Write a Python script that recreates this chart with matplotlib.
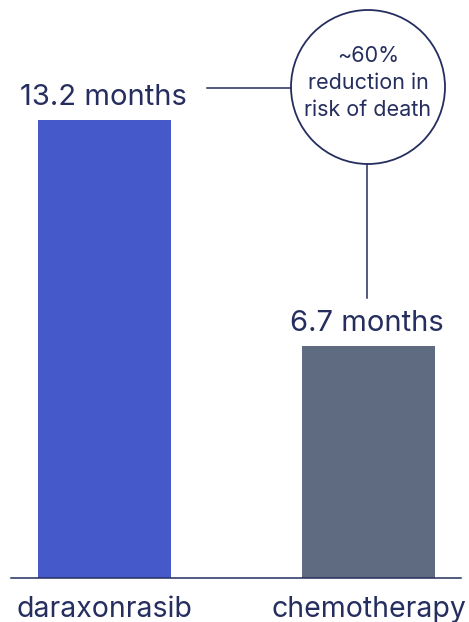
import matplotlib
matplotlib.use("Agg")
import matplotlib.pyplot as plt
from matplotlib.patches import Circle

plt.rcParams["font.family"] = ["Inter", "DejaVu Sans"]

treatments = ["daraxonrasib", "chemotherapy"]
median_os = [13.2, 6.7]
value_labels = ["13.2 months", "6.7 months"]
bar_colors = ["#4659cb", "#5f6b80"]
callout_text = "~60%\nreduction in\nrisk of death"

navy = "#252e5e"
W, H, DPI = 469, 622, 100
px_per_month = 34.7
px_per_cat = 264
x0_px = 104.5
base_px = 44

fig = plt.figure(figsize=(W / DPI, H / DPI), dpi=DPI)
ax = fig.add_axes([0, base_px / H, 1, 1 - base_px / H])
ax.set_xlim(-x0_px / px_per_cat, (W - x0_px) / px_per_cat)
ax.set_ylim(0, (H - base_px) / px_per_month)

x = list(range(len(treatments)))
ax.bar(x, median_os, width=133 / px_per_cat, color=bar_colors, zorder=2)

for xi, v, lab in zip(x, median_os, value_labels):
    ax.annotate(lab, (xi, v), xytext=(-1, 10.5), textcoords="offset points",
                ha="center", va="baseline", fontsize=21, color=navy)

# baseline
ax.plot([(11 - x0_px) / px_per_cat, (461 - x0_px) / px_per_cat], [0, 0],
        color=navy, lw=1.1, zorder=3, clip_on=False)

for s in ax.spines.values():
    s.set_visible(False)
ax.set_yticks([])
ax.set_xticks(x)
ax.set_xticklabels(treatments, fontsize=20.5, color=navy)
ax.tick_params(axis="x", length=0, pad=13)

# callout circle and connectors
cx, cy, r = 368, H - 87, 77
circ = Circle((cx / DPI, cy / DPI), r / DPI, transform=fig.dpi_scale_trans,
              fill=False, ec=navy, lw=1.3)
fig.patches.append(circ)
fig.text(cx / W, (cy + 4) / H, callout_text, ha="center", va="center",
         fontsize=15.5, color=navy, linespacing=1.45)

def py(p):
    return (H - p - base_px) / px_per_month

def px(p):
    return (p - x0_px) / px_per_cat

ax.plot([px(207), px(cx - r)], [py(88), py(88)], color=navy, lw=1.1, clip_on=False)
ax.plot([px(367), px(367)], [py(164), py(298)], color=navy, lw=1.1, clip_on=False)

fig.savefig("out.png", dpi=DPI, facecolor="white")
